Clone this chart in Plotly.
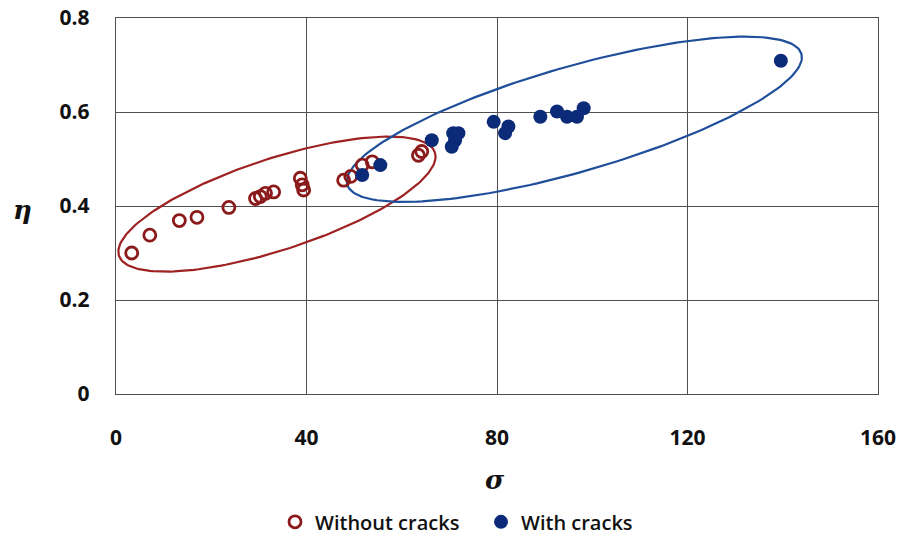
import numpy as np
import plotly.graph_objects as go

# ---- data ----
sigma_without = [3.3, 7.1, 13.3, 17.0, 23.7, 29.3, 30.3, 31.4, 33.1, 38.7, 39.1, 39.4,
                 47.8, 49.3, 51.7, 53.8, 63.5, 64.2]
eta_without = [0.300, 0.338, 0.369, 0.376, 0.397, 0.416, 0.420, 0.427, 0.430, 0.459, 0.445, 0.434,
               0.455, 0.463, 0.487, 0.494, 0.508, 0.516]

sigma_with = [51.7, 55.5, 66.3, 70.5, 70.8, 71.2, 71.9, 79.3, 81.7, 82.4, 89.1, 92.6, 94.7, 96.8, 98.2, 139.6]
eta_with = [0.466, 0.487, 0.540, 0.526, 0.555, 0.540, 0.555, 0.579, 0.555, 0.569, 0.590, 0.601, 0.590, 0.590, 0.608, 0.709]

x_ticks = [0, 40, 80, 120, 160]
y_ticks = [0, 0.2, 0.4, 0.6, 0.8]
y_tick_text = ["0", "0.2", "0.4", "0.6", "0.8"]

RED = "#8B1A1A"
BLUE = "#0B2A78"
RED_ELL = "#9E2222"
BLUE_ELL = "#1F4E9A"

# plot area geometry (px) used to draw ellipses that look like the reference
PW, PH = 762, 376
XR, YR = 160.0, 0.8
sx, sy = PW / XR, PH / YR


def ellipse(cx, cy, a_px, b_px, theta_deg, n=200):
    t = np.linspace(0, 2 * np.pi, n)
    th = np.radians(theta_deg)
    dx = a_px * np.cos(t) * np.cos(th) - b_px * np.sin(t) * np.sin(th)
    dy = a_px * np.cos(t) * np.sin(th) + b_px * np.sin(t) * np.cos(th)
    return cx + dx / sx, cy + dy / sy


ex1, ey1 = ellipse(33.8, 0.404, 166.2, 45.7, 18.1)
ex2, ey2 = ellipse(96.25, 0.5845, 236.3, 52.6, 16.06)

fig = go.Figure()
fig.add_trace(go.Scatter(x=ex1, y=ey1, mode="lines", line=dict(color=RED_ELL, width=2.2),
                         showlegend=False, hoverinfo="skip"))
fig.add_trace(go.Scatter(x=ex2, y=ey2, mode="lines", line=dict(color=BLUE_ELL, width=2.2),
                         showlegend=False, hoverinfo="skip"))
fig.add_trace(go.Scatter(x=sigma_without, y=eta_without, mode="markers", name="Without cracks",
                         marker=dict(symbol="circle-open", size=12, color=RED, line=dict(width=2.8, color=RED))))
fig.add_trace(go.Scatter(x=sigma_with, y=eta_with, mode="markers", name="With cracks",
                         marker=dict(symbol="circle", size=14, color=BLUE, line=dict(width=0))))

tick_font = dict(size=21, color="#111", family="Open Sans, sans-serif", weight="bold")

fig.update_layout(
    width=901, height=535,
    margin=dict(l=116, r=23, t=18, b=141, autoexpand=False),
    paper_bgcolor="white", plot_bgcolor="white",
    font=dict(family="Open Sans, Liberation Sans, sans-serif", size=16, color="#222"),
    legend=dict(orientation="h", x=0.479, xanchor="center", y=-0.34, yanchor="middle",
                font=dict(size=20, color="#111", weight=600), itemwidth=30, tracegroupgap=0,
                entrywidth=161, entrywidthmode="pixels"),
    xaxis=dict(range=[0, 160], tickvals=x_ticks, ticktext=[str(v) for v in x_ticks],
               showgrid=True, gridcolor="#505050", gridwidth=1.4,
               showline=True, linecolor="#505050", linewidth=1.4, mirror=True,
               zeroline=False, ticks="", ticklabelstandoff=25, automargin=False,
               ticklabeloverflow="allow", tickfont=tick_font),
    yaxis=dict(range=[0, 0.8], tickvals=y_ticks, ticktext=y_tick_text,
               showgrid=True, gridcolor="#505050", gridwidth=1.4,
               showline=True, linecolor="#505050", linewidth=1.4, mirror=True,
               zeroline=False, ticks="", ticklabelstandoff=21, automargin=False,
               ticklabeloverflow="allow", tickfont=tick_font),
    annotations=[
        dict(text="<b><i>σ</i></b>", x=0.497, xref="paper", y=-0.23, yref="paper",
             showarrow=False, font=dict(size=26, family="DejaVu Serif, serif", color="#111"),
             xanchor="center", yanchor="middle"),
        dict(text="<b><i>η</i></b>", x=-0.123, xref="paper", y=0.49, yref="paper",
             showarrow=False, font=dict(size=26, family="DejaVu Serif, serif", color="#111"),
             xanchor="center", yanchor="middle"),
    ],
)

# remove the default page margin so the figure fills the window exactly
fig.write_html("out.html", config={"displayModeBar": False},
               post_script="document.body.style.margin='0';")
